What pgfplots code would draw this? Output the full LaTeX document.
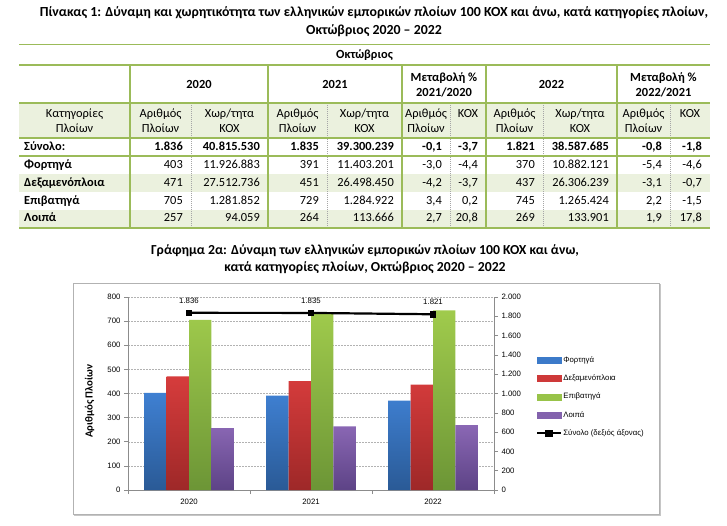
\documentclass[border=0pt]{standalone}
\usepackage{fontspec}
\setmainfont{Carlito}
\newfontfamily\chartfont{Liberation Sans}
\usepackage{pgfplots}
\pgfplotsset{compat=1.18}
\definecolor{tgreen}{HTML}{9BBB59}
\definecolor{tshade}{HTML}{EBF1DE}
\definecolor{blueT}{HTML}{3F80D2}
\definecolor{blueB}{HTML}{2A5A96}
\definecolor{redT}{HTML}{D63C3C}
\definecolor{redB}{HTML}{9E2828}
\definecolor{greenT}{HTML}{A0CB4C}
\definecolor{greenB}{HTML}{6C9536}
\definecolor{purT}{HTML}{8A67B4}
\definecolor{purB}{HTML}{5D4386}
\definecolor{axgray}{HTML}{8C8C8C}
\newcommand\tbfont{\fontsize{12.4}{15}\selectfont}
\newcommand\chfont{\chartfont\fontsize{7.8}{9}\selectfont}
\tikzset{
  num/.style={anchor=base east, inner sep=0pt, font=\tbfont},
  numb/.style={anchor=base east, inner sep=0pt, font=\tbfont\bfseries},
  hd/.style={align=center, inner sep=0pt, font=\tbfont},
}
% one row of the table, first half: style, baseline, then five values
\newcommand\rowA[7]{%
  \node[#1] at (183,#2) {#3}; \node[#1] at (260,#2) {#4};
  \node[#1] at (319,#2) {#5}; \node[#1] at (394,#2) {#6};
  \node[#1] at (442,#2) {#7};}
\newcommand\rowB[7]{%
  \node[#1] at (478,#2) {#3}; \node[#1] at (535,#2) {#4};
  \node[#1] at (609,#2) {#5}; \node[#1] at (662,#2) {#6};
  \node[#1] at (702,#2) {#7};}

\begin{document}
\begin{tikzpicture}
\useasboundingbox (0,0) rectangle (727pt,525pt);
\begin{scope}[x=1pt,y=-1pt,shift={(0pt,525pt)}]
  % title
  \node[align=center, inner sep=0pt, font=\fontsize{13.85}{17.7}\selectfont\bfseries] at (374,21.5)
    {Πίνακας 1: Δύναμη και χωρητικότητα των ελληνικών εμπορικών πλοίων 100 ΚΟΧ και άνω, κατά κατηγορίες πλοίων,\\Οκτώβριος 2020 – 2022};
  % table background
  \fill[tshade] (19,103) rectangle (710,138);
  \fill[tshade] (19,174) rectangle (710,192);
  \fill[tshade] (19,210) rectangle (710,228);
  \foreach \x in {191,327,450,543,670}
    \draw[gray!70, dash pattern=on 1pt off 1pt, line width=0.6pt] (\x,103) -- (\x,228);
  \foreach \y in {44.5,65,103,138,156,228}
    \draw[tgreen, line width=1.8pt] (19,\y) -- (710,\y);
  \foreach \x in {130,268,402,486,617}
    \draw[tgreen, line width=1.8pt] (\x,65) -- (\x,228);
  % headers
  \node[hd, font=\tbfont\bfseries] at (364.5,55) {Οκτώβριος};
  \node[hd, font=\tbfont\bfseries] at (199,84.5) {2020};
  \node[hd, font=\tbfont\bfseries] at (335,84.5) {2021};
  \node[hd, font=\tbfont\bfseries] at (444,85) {Μεταβολή \%\\2021/2020};
  \node[hd, font=\tbfont\bfseries] at (551.5,84.5) {2022};
  \node[hd, font=\tbfont\bfseries] at (663.5,85) {Μεταβολή \%\\2022/2021};
  \node[hd] at (74.5,121) {Κατηγορίες\\Πλοίων};
  \node[hd] at (160.5,121) {Αριθμός\\Πλοίων};
  \node[hd] at (229.5,121) {Χωρ/τητα\\ΚΟΧ};
  \node[hd] at (297.5,121) {Αριθμός\\Πλοίων};
  \node[hd] at (364.5,121) {Χωρ/τητα\\ΚΟΧ};
  \node[hd] at (426,121) {Αριθμός\\Πλοίων};
  \node[hd] at (468,113.5) {ΚΟΧ};
  \node[hd] at (514.5,121) {Αριθμός\\Πλοίων};
  \node[hd] at (580,121) {Χωρ/τητα\\ΚΟΧ};
  \node[hd] at (643.5,121) {Αριθμός\\Πλοίων};
  \node[hd] at (690,113.5) {ΚΟΧ};
  % rows
  \foreach \y/\t in {151/Σύνολο:,169/Φορτηγά,187/Δεξαμενόπλοια,205/Επιβατηγά,222/Λοιπά}
    \node[anchor=base west, inner sep=0pt, font=\tbfont\bfseries] at (24,\y) {\t};
  \rowA{numb}{151}{1.836}{40.815.530}{1.835}{39.300.239}{-0,1}
  \rowB{numb}{151}{-3,7}{1.821}{38.587.685}{-0,8}{-1,8}
  \rowA{num}{169}{403}{11.926.883}{391}{11.403.201}{-3,0}
  \rowB{num}{169}{-4,4}{370}{10.882.121}{-5,4}{-4,6}
  \rowA{num}{187}{471}{27.512.736}{451}{26.498.450}{-4,2}
  \rowB{num}{187}{-3,7}{437}{26.306.239}{-3,1}{-0,7}
  \rowA{num}{205}{705}{1.281.852}{729}{1.284.922}{3,4}
  \rowB{num}{205}{0,2}{745}{1.265.424}{2,2}{-1,5}
  \rowA{num}{222}{257}{94.059}{264}{113.666}{2,7}
  \rowB{num}{222}{20,8}{269}{133.901}{1,9}{17,8}
  % chart title and frame
  \node[align=center, inner sep=0pt, font=\fontsize{13.75}{17}\selectfont\bfseries] at (365,259.5)
    {Γράφημα 2α: Δύναμη των ελληνικών εμπορικών πλοίων 100 ΚΟΧ και άνω,\\κατά κατηγορίες πλοίων, Οκτώβριος 2020 – 2022};
  \draw[gray!45, line width=1.2pt] (74,515) -- (660,515) -- (660,284);
  \draw[gray!60, line width=0.8pt] (73,283) rectangle (659,514);
\end{scope}

\begin{axis}[
  at={(128pt,35pt)}, anchor=south west,
  scale only axis, width=366pt, height=193pt,
  xmin=-0.5, xmax=2.5, ymin=0, ymax=800,
  ybar=0pt, bar width=22.4pt,
  xtick={0,1,2}, xticklabels={2020,2021,2022},
  major x tick style={draw=none},
  minor xtick={-0.5,0.5,1.5,2.5},
  ytick={0,100,...,800},
  yticklabels={0,100,200,300,400,500,600,700,800},
  axis x line*=bottom, axis y line*=left,
  x axis line style={-}, y axis line style={-},
  axis line style={axgray, line width=0.8pt},
  tick align=outside, major tick length=4pt, minor tick length=4pt,
  tick style={axgray, line width=0.6pt},
  ymajorgrids, grid style={gray!60, line width=0.5pt, dash pattern=on 2pt off 1pt},
  ticklabel style={font=\chfont, text=black},
  xticklabel style={yshift=-2pt},
  ylabel={Αριθμός Πλοίων},
  ylabel style={font=\fontsize{10.8}{12}\selectfont\bfseries, at={(axis description cs:-0.105,0.46)}, anchor=center},
]
\addplot[draw=none, top color=blueT, bottom color=blueB] coordinates {(0,403) (1,391) (2,370)};
\addplot[draw=none, top color=redT, bottom color=redB] coordinates {(0,471) (1,451) (2,437)};
\addplot[draw=none, top color=greenT, bottom color=greenB] coordinates {(0,705) (1,729) (2,745)};
\addplot[draw=none, top color=purT, bottom color=purB] coordinates {(0,257) (1,264) (2,269)};
\end{axis}

\begin{axis}[
  at={(128pt,35pt)}, anchor=south west,
  scale only axis, width=366pt, height=193pt,
  xmin=-0.5, xmax=2.5, ymin=0, ymax=2000,
  axis x line=none, axis y line*=right, y axis line style={-},
  axis line style={axgray, line width=0.8pt},
  ytick={0,200,...,2000},
  yticklabels={0,200,400,600,800,1.000,1.200,1.400,1.600,1.800,2.000},
  tick align=outside, major tick length=4pt,
  tick style={axgray, line width=0.6pt},
  ticklabel style={font=\chfont, text=black},
  legend style={at={(1.1148,0.70)}, anchor=north west, draw=none, fill=none,
    inner sep=0pt, font=\chfont, row sep=8.3pt,
    nodes={inner sep=1pt, text height=6pt, text depth=2pt}},
  legend cell align=left,
]
\addlegendimage{legend image code/.code={\fill[blueT!85!blueB] (0pt,-3pt) rectangle (24pt,3pt);}}
\addlegendentry{Φορτηγά}
\addlegendimage{legend image code/.code={\fill[redT!85!redB] (0pt,-3pt) rectangle (24pt,3pt);}}
\addlegendentry{Δεξαμενόπλοια}
\addlegendimage{legend image code/.code={\fill[greenT!85!greenB] (0pt,-3pt) rectangle (24pt,3pt);}}
\addlegendentry{Επιβατηγά}
\addlegendimage{legend image code/.code={\fill[purT!85!purB] (0pt,-3pt) rectangle (24pt,3pt);}}
\addlegendentry{Λοιπά}
\addplot[black, line width=2.2pt, mark=square*, mark size=2.6pt, mark options={line width=0.4pt},
  point meta=explicit symbolic, nodes near coords,
  nodes near coords style={anchor=center, yshift=12.5pt, font=\chfont, text=black},
  legend image code/.code={\draw[black, line width=2.2pt] (0pt,0pt) -- (24pt,0pt);
    \fill[black] (9pt,-2.6pt) rectangle (14.2pt,2.6pt);}]
  coordinates {(0,1836) [1.836] (1,1835) [1.835] (2,1821) [1.821]};
\addlegendentry{Σύνολο (δεξιός άξονας)}
\end{axis}
\end{tikzpicture}
\end{document}
